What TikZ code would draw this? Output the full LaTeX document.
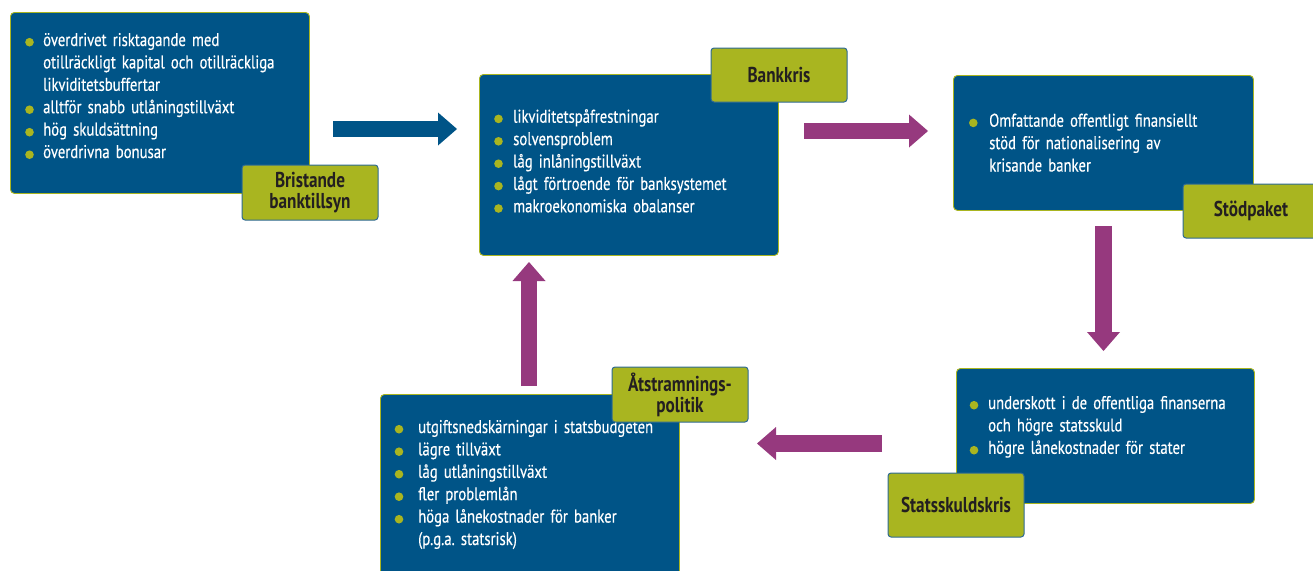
\documentclass[tikz,border=0pt]{standalone}
\usepackage{fontspec}
\setmainfont{PT Sans}[FakeStretch=0.8]
\newfontfamily\listfont{PT Sans}[FakeStretch=0.8, FakeBold=0.35, WordSpace=0.75]
\frenchspacing
\usetikzlibrary{arrows.meta}

\definecolor{boxblue}{HTML}{005487}
\definecolor{tagolive}{HTML}{A9B520}
\definecolor{tagedge}{HTML}{2E6A94}
\definecolor{arrowmag}{HTML}{96397E}
\definecolor{tagtext}{HTML}{231F20}

\tikzset{
  bluebox/.style={draw=tagolive, line width=0.9pt, fill=boxblue,
    rounded corners=4pt, anchor=north west, inner sep=0pt, minimum width=299pt},
  tag/.style={draw=tagedge, line width=1pt, fill=tagolive, rounded corners=3pt,
    minimum width=136pt, inner sep=0pt, text=tagtext,
    font=\bfseries\fontsize{21.5}{21}\selectfont, align=center},
  items/.style={text=white, font=\listfont\fontsize{18.4}{22.4}\selectfont,
    text width=300pt, align=left, anchor=base west, inner sep=0pt},
  bulletdot/.style={fill=tagolive},
  flow/.style={line width=16pt,
    -{Triangle[length=19pt,width=33pt,line width=0pt]}},
}

\begin{document}
\begin{tikzpicture}[x=1pt, y=-1pt]
\useasboundingbox (0,0) rectangle (1313,570);
\clip (0,0) rectangle (1313,570);

% --- blue content boxes
\node[bluebox, minimum height=181pt] (box1) at (10,12) {};
\node[bluebox, minimum height=181pt] (box2) at (479,74) {};
\node[bluebox, minimum height=135pt, minimum width=300pt] (box3) at (953,75) {};
\node[bluebox, minimum height=135pt, minimum width=298pt] (box4) at (956,368) {};
\node[bluebox, minimum height=190pt] (box5) at (380,394) {};

% --- bullet lists
\node[items] (t1) at (43,46) {överdrivet risktagande med\\otillräckligt kapital och otillräckliga\\likviditetsbuffertar\\alltför snabb utlåningstillväxt\\hög skuldsättning\\överdrivna bonusar};
\foreach \yy in {46,113.5,136,158.5}
  \fill[bulletdot] (29.5,\yy-3.8) circle[radius=4.3pt];

\node[items] (t2) at (513,122.7) {likviditetspåfrestningar\\solvensproblem\\låg inlåningstillväxt\\lågt förtroende för banksystemet\\makroekonomiska obalanser};
\foreach \yy in {122.7,145.1,167.5,189.9,212.3}
  \fill[bulletdot] (498.5,\yy-3.8) circle[radius=4.3pt];

\node[items] (t3) at (989,126.7) {Omfattande offentligt finansiellt\\stöd för nationalisering av\\krisande banker};
\fill[bulletdot] (973.3,126.7-3.8) circle[radius=4.3pt];

\node[items] (t4) at (988,409) {underskott i de offentliga finanserna\\och högre statsskuld\\högre lånekostnader för stater};
\foreach \yy in {409,454}
  \fill[bulletdot] (974,\yy-3.8) circle[radius=4.3pt];

\node[items] (t5) at (418,433) {utgiftsnedskärningar i statsbudgeten\\lägre tillväxt\\låg utlåningstillväxt\\fler problemlån\\höga lånekostnader för banker\\(p.g.a. statsrisk)};
\foreach \yy in {433,455.5,478,500.5,523}
  \fill[bulletdot] (399,\yy-3.8) circle[radius=4.3pt];

% --- title tags
\node[tag, minimum height=55pt] (tag1) at (310,192.5) {Bristande\\banktillsyn};
\node[tag, minimum height=54pt] (tag2) at (779,75) {Bankkris};
\node[tag, minimum height=54pt] (tag3) at (1251,211) {Stödpaket};
\node[tag, minimum height=64pt] (tag4) at (956,505) {Statsskuldskris};
\node[tag, minimum height=55pt] (tag5) at (680,394.5) {Åtstramnings-\\politik};

% --- arrow end points
\coordinate (a1s) at (333,129);
\coordinate (a1e) at (457,129);
\coordinate (a2s) at (804,131);
\coordinate (a2e) at (928,131);
\coordinate (a3s) at (1103.5,226);
\coordinate (a3e) at (1103.5,351);
\coordinate (a4s) at (882,443.5);
\coordinate (a4e) at (757,443.5);
\coordinate (a5s) at (529,386);
\coordinate (a5e) at (529,262);

% --- block arrows of the cycle
\draw[flow, boxblue] (a1s) -- (a1e);
\draw[flow, arrowmag] (a2s) -- (a2e);
\draw[flow, arrowmag, line width=17pt] (a3s) -- (a3e);
\draw[flow, arrowmag, line width=17pt] (a4s) -- (a4e);
\draw[flow, arrowmag] (a5s) -- (a5e);
\end{tikzpicture}
\end{document}
